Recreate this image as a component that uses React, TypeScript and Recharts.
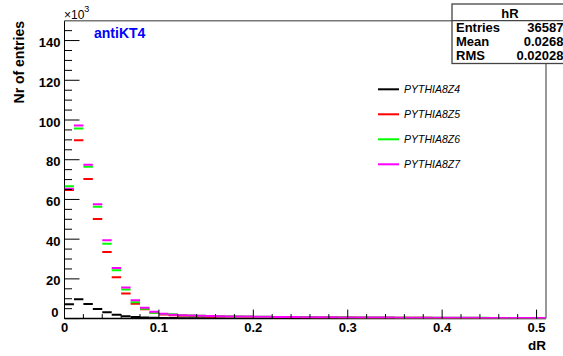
import { ComposedChart, Scatter, XAxis, YAxis } from "recharts";

// bin centres of dR (bin width 0.01)
const binCenters = [
  0.005, 0.015, 0.025, 0.035, 0.045, 0.055, 0.065, 0.075, 0.085, 0.095,
  0.105, 0.115, 0.125, 0.135, 0.145, 0.155, 0.165, 0.175, 0.185, 0.195,
  0.205, 0.215, 0.225, 0.235, 0.245, 0.255, 0.265, 0.275, 0.285, 0.295,
  0.305, 0.315, 0.325, 0.335, 0.345, 0.355, 0.365, 0.375, 0.385, 0.395,
  0.405, 0.415, 0.425, 0.435, 0.445, 0.455, 0.465, 0.475, 0.485, 0.495,
  0.505,
];

// entries per bin, in units of 10^3
const z4 = [
  7.2, 9.7, 7.3, 4.8, 3.2, 2.0, 1.2, 0.8, 0.55, 0.4, 0.32, 0.27, 0.23, 0.2, 0.18,
  0.16, 0.15, 0.14, 0.13, 0.12, 0.11, 0.1, 0.1, 0.09, 0.09, 0.08, 0.08, 0.07, 0.07,
  0.07, 0.06, 0.06, 0.06, 0.05, 0.05, 0.05, 0.05, 0.04, 0.04, 0.04, 0.04, 0.04,
  0.03, 0.03, 0.03, 0.03, 0.03, 0.03, 0.02, 0.02, 0.02,
];
const z5 = [
  64.8, 89.8, 70.3, 50.2, 33.5, 20.8, 12.7, 7.5, 4.7, 3.0, 2.1, 1.7, 1.4, 1.3, 1.2,
  1.1, 1.0, 0.95, 0.9, 0.85, 0.8, 0.76, 0.72, 0.69, 0.66, 0.63, 0.6, 0.58, 0.55,
  0.53, 0.51, 0.49, 0.47, 0.45, 0.43, 0.42, 0.4, 0.39, 0.38, 0.36, 0.35, 0.34,
  0.33, 0.32, 0.31, 0.3, 0.29, 0.28, 0.27, 0.26, 0.25,
];
const z6 = [
  66.6, 95.7, 76.4, 56.3, 37.7, 24.3, 14.6, 8.2, 5.0, 3.0, 2.3, 2.2, 1.7, 1.5, 1.4,
  1.3, 1.2, 1.1, 1.05, 1.0, 0.95, 0.9, 0.86, 0.82, 0.78, 0.75, 0.71, 0.68, 0.65,
  0.62, 0.6, 0.57, 0.55, 0.53, 0.51, 0.49, 0.47, 0.45, 0.44, 0.42, 0.41, 0.4,
  0.39, 0.38, 0.37, 0.36, 0.35, 0.34, 0.33, 0.32, 0.31,
];
const z7 = [
  65.4, 97.2, 77.5, 57.6, 39.4, 25.5, 15.7, 9.2, 5.5, 3.5, 2.5, 2.0, 1.7, 1.5, 1.4,
  1.3, 1.2, 1.1, 1.05, 1.0, 0.95, 0.9, 0.85, 0.8, 0.78, 0.74, 0.7, 0.67, 0.64,
  0.61, 0.58, 0.56, 0.54, 0.52, 0.5, 0.48, 0.46, 0.45, 0.43, 0.42, 0.4, 0.39,
  0.38, 0.37, 0.36, 0.35, 0.34, 0.33, 0.32, 0.31, 0.3,
];

const seriesNames = ["PYTHIA8Z4", "PYTHIA8Z5", "PYTHIA8Z6", "PYTHIA8Z7"];
const seriesColors = ["#000000", "#ff0000", "#00ff00", "#ff00ff"];
const seriesValues = [z4, z5, z6, z7];

const xTicks = [
  0, 0.02, 0.04, 0.06, 0.08, 0.1, 0.12, 0.14, 0.16, 0.18, 0.2, 0.22, 0.24, 0.26,
  0.28, 0.3, 0.32, 0.34, 0.36, 0.38, 0.4, 0.42, 0.44, 0.46, 0.48, 0.5,
];
const yTicks = [
  0, 5, 10, 15, 20, 25, 30, 35, 40, 45, 50, 55, 60, 65, 70, 75, 80, 85, 90, 95,
  100, 105, 110, 115, 120, 125, 130, 135, 140, 145,
];

const W = 563;
const H = 356;
const FONT = "'Liberation Sans', Arial, Helvetica, sans-serif";
const PLOT_LEFT = 64.5;
const PLOT_RIGHT = 546;
const PLOT_TOP = 20.7;
const X_MAX = 0.51;
const BIN_PX = ((PLOT_RIGHT - PLOT_LEFT) / X_MAX) * 0.01;

const isMajor = (v: number, step: number) =>
  Math.abs(v / step - Math.round(v / step)) < 1e-6;

const XTick = (props: any) => {
  const { x, y, payload } = props;
  const v = payload.value;
  const major = isMajor(v, 0.1);
  return (
    <g>
      <line x1={x} x2={x} y1={y} y2={y - (major ? 9 : 4.5)} stroke="#000" strokeWidth={1} />
      {major && (
        <text x={x} y={y + 13.5} textAnchor="middle" fontFamily={FONT} fontWeight="bold" fontSize={13} fill="#000">
          {v === 0 ? "0" : v.toFixed(1)}
        </text>
      )}
    </g>
  );
};

const YTick = (props: any) => {
  const { x, y, payload } = props;
  const v = payload.value;
  const major = isMajor(v, 20);
  return (
    <g>
      <line x1={x} x2={x + (major ? 15 : 7.5)} y1={y} y2={y} stroke="#000" strokeWidth={1} />
      {major && (
        <text
          x={v === 0 ? x - 6 : x - 4}
          y={v === 0 ? y - 1.5 : y + 6.5}
          textAnchor="end"
          fontFamily={FONT}
          fontWeight="bold"
          fontSize={13}
          fill="#000"
        >
          {v}
        </text>
      )}
    </g>
  );
};

const binMarker = (color: string) => (p: any) =>
  (
    <line
      x1={p.cx - BIN_PX / 2}
      x2={p.cx + BIN_PX / 2}
      y1={p.cy}
      y2={p.cy}
      stroke={color}
      strokeWidth={2}
    />
  );

export default function App() {
  return (
    <div style={{ position: "absolute", left: 0, top: 0, width: W, height: H, background: "#fff" }}>
      <ComposedChart
        width={W}
        height={H}
        margin={{ top: PLOT_TOP, right: W - PLOT_RIGHT, bottom: 0, left: 0 }}
      >
        <XAxis
          type="number"
          dataKey="x"
          domain={[0, X_MAX]}
          ticks={xTicks}
          interval={0}
          height={37.4}
          tickSize={0}
          tickMargin={0}
          tickLine={false}
          axisLine={{ stroke: "#000", strokeWidth: 1.5 }}
          tick={<XTick />}
          allowDataOverflow
        />
        <YAxis
          type="number"
          dataKey="y"
          domain={[0, 150]}
          ticks={yTicks}
          interval={0}
          width={PLOT_LEFT}
          tickSize={0}
          tickMargin={0}
          tickLine={false}
          axisLine={{ stroke: "#000", strokeWidth: 1 }}
          tick={<YTick />}
          allowDataOverflow
        />
        {seriesValues.map((vals, i) => (
          <Scatter
            key={seriesNames[i]}
            name={seriesNames[i]}
            data={binCenters.map((x, j) => ({ x, y: vals[j] }))}
            shape={binMarker(seriesColors[i])}
            isAnimationActive={false}
          />
        ))}
      </ComposedChart>

      <svg
        width={W}
        height={H}
        style={{ position: "absolute", left: 0, top: 0, pointerEvents: "none" }}
      >
        {/* frame top and right */}
        <line x1={PLOT_LEFT} x2={PLOT_RIGHT} y1={PLOT_TOP} y2={PLOT_TOP} stroke="#777" strokeWidth={1.5} />
        <line x1={PLOT_RIGHT} x2={PLOT_RIGHT} y1={PLOT_TOP} y2={318.6} stroke="#777" strokeWidth={1.5} />

        {/* exponent */}
        <text x={64} y={19} fontFamily={FONT} fontSize={12} fill="#000">
          ×10
          <tspan dy={-7} fontSize={9}>3</tspan>
        </text>

        {/* axis titles */}
        <text
          x={24}
          y={21}
          transform="rotate(-90 24 21)"
          textAnchor="end"
          fontFamily={FONT}
          fontWeight="bold"
          fontSize={14}
          fill="#000"
        >
          Nr of entries
        </text>
        <text x={546} y={350} textAnchor="end" fontFamily={FONT} fontWeight="bold" fontSize={13.5} fill="#000">
          dR
        </text>

        <text x={94} y={38} fontFamily={FONT} fontWeight="bold" fontSize={14} fill="#0000ff">
          antiKT4
        </text>

        {/* legend */}
        {seriesNames.map((n, i) => (
          <g key={n}>
            <line x1={378} x2={399} y1={89.3 + i * 25} y2={89.3 + i * 25} stroke={seriesColors[i]} strokeWidth={2} />
            <text
              x={404}
              y={89.3 + i * 25 + 3.8}
              fontFamily={FONT}
              fontStyle="italic"
              fontSize={10.5}
              fill="#000"
            >
              {n}
            </text>
          </g>
        ))}

        {/* stats box */}
        <rect x={452} y={4} width={130} height={59.5} fill="#fff" stroke="#444" strokeWidth={1.3} />
        <line x1={452} x2={563} y1={20.7} y2={20.7} stroke="#444" strokeWidth={1.3} />
        <text x={510} y={17.5} textAnchor="middle" fontFamily={FONT} fontWeight="bold" fontSize={13}>
          hR
        </text>
        {[
          ["Entries", "36587"],
          ["Mean", "0.0268"],
          ["RMS", "0.02028"],
        ].map(([k, v], i) => (
          <g key={k}>
            <text x={456} y={32.3 + i * 14} fontFamily={FONT} fontWeight="bold" fontSize={13}>
              {k}
            </text>
            <text x={563.5} y={32.3 + i * 14} textAnchor="end" fontFamily={FONT} fontWeight="bold" fontSize={13}>
              {v}
            </text>
          </g>
        ))}
      </svg>
    </div>
  );
}
